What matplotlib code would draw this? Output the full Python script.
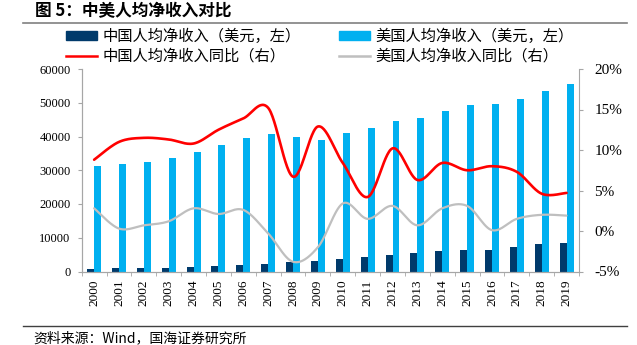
"""中美人均净收入对比：柱状图（美元，左轴）+ 同比平滑曲线（右轴）。"""

import numpy as np
import matplotlib
matplotlib.use("Agg")
import matplotlib.pyplot as plt
from matplotlib.lines import Line2D
from matplotlib.patches import Patch

plt.rcParams["font.family"] = ["Noto Sans CJK SC", "DejaVu Sans"]

years = [str(y) for y in range(2000, 2020)]

# 人均净收入，美元
china_income = [800, 900, 1000, 1100, 1300, 1500, 1800, 2300, 2800, 3200,
                3600, 4300, 5000, 5500, 6100, 6400, 6500, 7200, 8100, 8300]
us_income = [31200, 31800, 32500, 33500, 35400, 37400, 39700, 40600, 40000, 39000,
             41000, 42600, 44700, 45600, 47700, 49300, 49600, 51200, 53500, 55500]

# 同比，%
china_yoy = [8.8, 11.0, 11.5, 11.3, 10.8, 12.5, 13.9, 15.2, 6.7, 12.9,
             8.4, 4.2, 10.2, 6.3, 8.4, 7.5, 8.0, 7.3, 4.6, 4.7]
us_yoy = [2.8, 0.3, 0.7, 1.2, 2.8, 2.1, 2.6, -0.3, -3.8, -2.0,
          3.4, 1.5, 3.1, 0.7, 2.8, 3.1, 0.1, 1.5, 2.0, 1.9]

DARK = "#003A6B"
LIGHT = "#00B0F0"
RED = "#FF0000"
GRAY = "#BFBFBF"
AXIS = "#A6A6A6"
SERIF = "Liberation Serif"


def smooth(xs, ys, n=30):
    """Сглаживание как в Excel (Catmull-Rom через Безье)."""
    xs = np.asarray(xs, float)
    ys = np.asarray(ys, float)
    px = np.concatenate([[xs[0]], xs, [xs[-1]]])
    py = np.concatenate([[ys[0]], ys, [ys[-1]]])
    out_x, out_y = [], []
    t = np.linspace(0, 1, n)
    for i in range(1, len(px) - 2):
        p0 = np.array([px[i], py[i]])
        p3 = np.array([px[i + 1], py[i + 1]])
        p1 = p0 + (np.array([px[i + 1], py[i + 1]]) - np.array([px[i - 1], py[i - 1]])) / 6
        p2 = p3 - (np.array([px[i + 2], py[i + 2]]) - np.array([px[i], py[i]])) / 6
        b = ((1 - t) ** 3)[:, None] * p0 + (3 * (1 - t) ** 2 * t)[:, None] * p1 \
            + (3 * (1 - t) * t ** 2)[:, None] * p2 + (t ** 3)[:, None] * p3
        out_x.extend(b[:, 0])
        out_y.extend(b[:, 1])
    return out_x, out_y


W, H = 637, 345
fig = plt.figure(figsize=(W / 100, H / 100), dpi=100)
ax = fig.add_axes([81.7 / W, 1 - 271.5 / H, (579 - 81.7) / W, (271.5 - 69) / H])
ax2 = ax.twinx()

x = np.arange(len(years))
w = 0.28
ax.bar(x - 0.14, china_income, w, color=DARK, zorder=2)
ax.bar(x + 0.14, us_income, w, color=LIGHT, zorder=2)

sx, sy = smooth(x, china_yoy)
ax2.plot(sx, sy, color=RED, lw=1.9, solid_capstyle="round")
sx, sy = smooth(x, us_yoy)
ax2.plot(sx, sy, color=GRAY, lw=1.6, solid_capstyle="round")

ax.set_xlim(-0.5, len(years) - 0.5)
ax.set_ylim(0, 60000)
ax.set_yticks(range(0, 60001, 10000))
ax2.set_ylim(-5, 20)
ax2.set_yticks(range(-5, 21, 5))
ax2.set_yticklabels([f"{v}%" for v in range(-5, 21, 5)])

ax.set_xticks(x)
ax.set_xticklabels(years, rotation=90, family=SERIF, fontsize=9.5)
ax.set_xticks(np.arange(-0.5, len(years), 1), minor=True)
ax.tick_params(axis="x", which="major", length=0, pad=6)
ax.tick_params(axis="x", which="minor", length=3, color=AXIS, direction="out")
for lab in ax.get_yticklabels():
    lab.set_family(SERIF)
ax.tick_params(axis="y", length=3, color=AXIS, labelsize=9, pad=5)
for lab in ax2.get_yticklabels():
    lab.set_family(SERIF)
ax2.tick_params(axis="y", length=3, color=AXIS, labelsize=11, pad=8)

for a in (ax, ax2):
    a.spines["top"].set_visible(False)
    for s in ("left", "right", "bottom"):
        a.spines[s].set_color(AXIS)
ax.spines["right"].set_visible(False)

handles = [
    Patch(color=DARK, label="中国人均净收入（美元，左）"),
    Line2D([], [], color=RED, lw=1.8, label="中国人均净收入同比（右）"),
    Patch(color=LIGHT, label="美国人均净收入（美元，左）"),
    Line2D([], [], color=GRAY, lw=1.8, label="美国人均净收入同比（右）"),
]
fig.legend(handles=handles, ncol=2, loc="upper left",
           bbox_to_anchor=(66 / W, 1 - 28 / H), frameon=False,
           fontsize=11, handlelength=2.0, handleheight=0.45, handletextpad=0.4,
           columnspacing=2.5, labelspacing=0.15, borderpad=0, borderaxespad=0)

fig.text(35 / W, 1 - 11 / H, "图 5：中美人均净收入对比", fontsize=12,
         fontweight="bold", va="center", ha="left")
fig.add_artist(Line2D([23 / W, 627 / W], [1 - 23 / H] * 2, color="#808080", lw=1.2))
fig.add_artist(Line2D([23 / W, 627 / W], [1 - 326 / H] * 2, color="#404040", lw=1.0))
fig.text(33 / W, 1 - 338 / H, "资料来源：Wind，国海证券研究所", fontsize=10,
         va="center", ha="left")

fig.savefig("out.png", dpi=100)
